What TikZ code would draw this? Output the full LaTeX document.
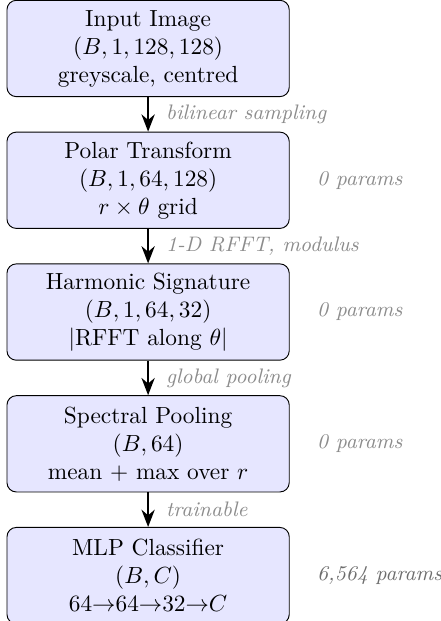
\documentclass[tikz,border=0pt]{standalone}
\usetikzlibrary{arrows.meta, positioning}
\definecolor{cfill}{HTML}{E6E6FF}
\definecolor{cnote}{HTML}{8C8C8C}
\definecolor{cdark}{HTML}{6E6E6E}
\tikzset{
  stage/.style={draw=black, fill=cfill, rounded corners=4pt, align=center, minimum width=4.25cm, minimum height=1.45cm, inner sep=3pt},
  flow/.style={-{Stealth[length=2.6mm, width=2mm]}, thick},
  edgelab/.style={font=\small\itshape, text=cnote, right=4pt},
  params/.style={font=\small\itshape, text=cnote, right=0.29cm of #1},
}

\begin{document}
\begin{tikzpicture}[x=1cm, y=1cm, node distance=0.52cm]
  \useasboundingbox (-2.23,0.73) rectangle (4.40,-8.62);
  % pipeline stages
  \node[stage] (input) at (0,0) {Input Image\\$(B,1,128,128)$\\greyscale, centred};
  \node[stage, below=of input] (polar) {Polar Transform\\$(B,1,64,128)$\\$r\times\theta$ grid};
  \node[stage, below=of polar] (harmonic) {Harmonic Signature\\$(B,1,64,32)$\\$|$RFFT along $\theta|$};
  \node[stage, below=of harmonic] (pooling) {Spectral Pooling\\$(B,64)$\\mean $+$ max over $r$};
  \node[stage, below=of pooling] (mlp) {MLP Classifier\\$(B,C)$\\64$\to$64$\to$32$\to$$C$};
  % connectors
  \draw[flow] (input) -- node[edgelab] {bilinear sampling} (polar);
  \draw[flow] (polar) -- node[edgelab] {1-D RFFT, modulus} (harmonic);
  \draw[flow] (harmonic) -- node[edgelab] {global pooling} (pooling);
  \draw[flow] (pooling) -- node[edgelab] {trainable} (mlp);
  % parameter counts
  \node[params=polar] (polarparams) {0 params};
  \node[params=harmonic] (harmonicparams) {0 params};
  \node[params=pooling] (poolingparams) {0 params};
  \node[params=mlp, text=cdark] (mlpparams) {6,564 params};
\end{tikzpicture}
\end{document}
